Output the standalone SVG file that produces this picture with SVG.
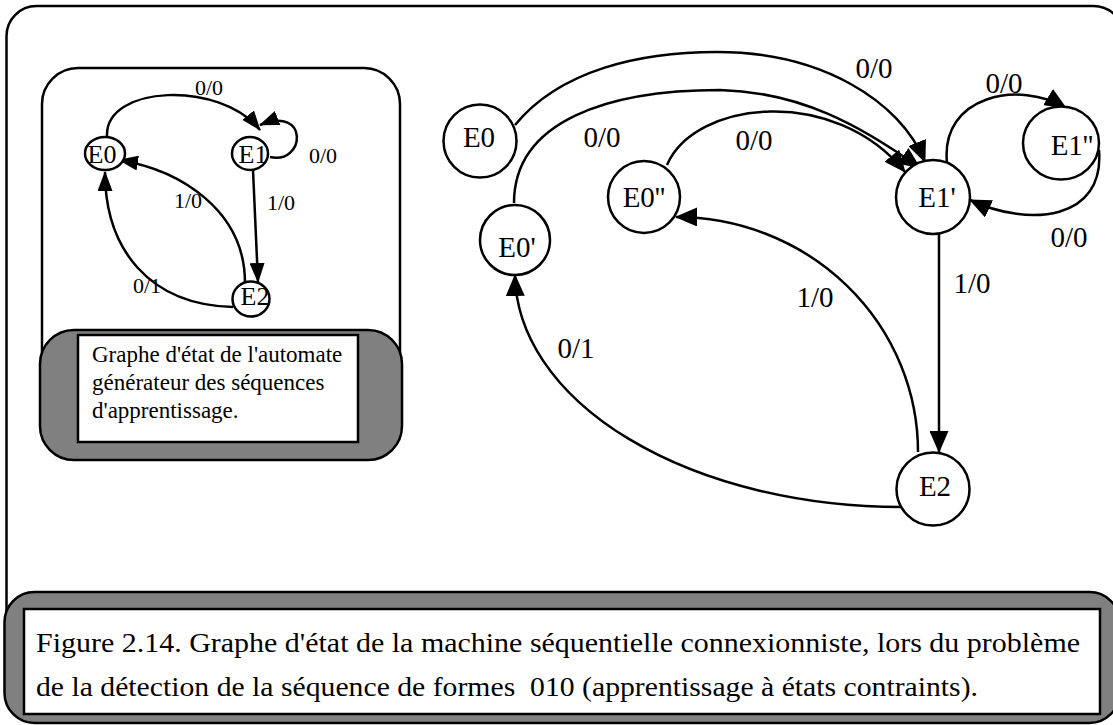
<svg xmlns="http://www.w3.org/2000/svg" width="1113" height="725" viewBox="0 0 1113 725">
<style>
.frame{fill:#fff;stroke:#000;stroke-width:2.5}
.gray{fill:#808080;stroke:#000;stroke-width:2.5}
.node{fill:#fff;stroke:#000;stroke-width:2.5}
.edge{fill:none;stroke:#000;stroke-width:2.5}
.t{font-family:"Liberation Serif","Times New Roman",serif;fill:#000}
.lm{font-size:29px;text-anchor:middle}
.ln{font-size:26px;text-anchor:middle}
.le{font-size:22px;text-anchor:middle}
</style>
<defs>
<marker id="ah" viewBox="0 0 22 19" refX="21" refY="9.5" markerWidth="22" markerHeight="19" orient="auto" markerUnits="userSpaceOnUse"><path d="M0,0 L22,9.5 L0,19 z" fill="#000"/></marker>
<marker id="ahs" viewBox="0 0 20 15" refX="19" refY="7.5" markerWidth="20" markerHeight="15" orient="auto" markerUnits="userSpaceOnUse"><path d="M0,0 L20,7.5 L0,15 z" fill="#000"/></marker>
</defs>
<rect width="1113" height="725" fill="#fff"/>
<g id="outer-frame"><rect class="frame" x="6.5" y="6" width="1117" height="690" rx="30"/></g>
<g id="inset">
<rect class="frame" x="42" y="68" width="358" height="320" rx="36"/>
<g id="inset-connectors">
<path class="edge" d="M107,136 C105,85 220,80 260,130" marker-end="url(#ahs)"/>
<path class="edge" d="M270,157 C305,165 310,105 260,125" marker-end="url(#ahs)"/>
<path class="edge" d="M253,170 L258,282" marker-end="url(#ahs)"/>
<path class="edge" d="M245,283 C245,210 180,170 119,160" marker-end="url(#ahs)"/>
<path class="edge" d="M233,307 C150,305 105,250 105,172" marker-end="url(#ahs)"/>
</g>
<g id="inset-E0"><ellipse class="node" cx="105" cy="153.5" rx="20" ry="16.5"/><text class="t ln" x="102" y="163">E0</text></g>
<g id="inset-E1"><ellipse class="node" cx="250" cy="153.5" rx="18" ry="16.5"/><text class="t ln" x="253" y="163">E1</text></g>
<g id="inset-E2"><ellipse class="node" cx="251" cy="299" rx="18.5" ry="17.5"/><text class="t ln" x="255" y="305">E2</text></g>
<g id="inset-labels">
<text class="t le" x="209" y="95">0/0</text>
<text class="t le" x="323" y="163">0/0</text>
<text class="t le" x="188" y="208">1/0</text>
<text class="t le" x="281" y="210">1/0</text>
<text class="t le" x="147" y="293">0/1</text>
</g>
<g id="inset-caption">
<rect class="gray" x="40" y="330" width="362" height="130" rx="34"/>
<rect class="frame" x="78" y="335" width="280" height="107"/>
<text class="t" font-size="23" x="92" y="362">Graphe d'état de l'automate</text>
<text class="t" font-size="23" x="92" y="390">générateur des séquences</text>
<text class="t" font-size="23" x="92" y="418">d'apprentissage.</text>
</g>
</g>
<g id="connectors">
<path class="edge" d="M515,125 C560,70 640,52 717,52 C820,52 900,100 925,162" marker-end="url(#ah)"/>
<path class="edge" d="M514,203 C514,120 610,90 720,90 C800,92 860,125 920,168" marker-end="url(#ah)"/>
<path class="edge" d="M667,165 C695,100 835,85 905,172" marker-end="url(#ah)"/>
<path class="edge" d="M947,163 C940,95 1020,80 1066,108" marker-end="url(#ah)"/>
<path class="edge" d="M1099,150 C1105,220 1030,228 970,200" marker-end="url(#ah)"/>
<path class="edge" d="M939,233 L939,452" marker-end="url(#ah)"/>
<path class="edge" d="M918,452 A242,235 0 0 0 676,217" marker-end="url(#ah)"/>
<path class="edge" d="M901,507 A386,234 0 0 1 515,275" marker-end="url(#ah)"/>
</g>
<g id="node-E0"><circle class="node" cx="480" cy="141" r="36.5"/><text class="t lm" x="479" y="147">E0</text></g>
<g id="node-E0pp"><circle class="node" cx="644" cy="197" r="36"/><text class="t lm" x="644" y="207">E0''</text></g>
<g id="node-E0p"><circle class="node" cx="515" cy="240" r="35"/><text class="t lm" x="517" y="257">E0'</text></g>
<g id="node-E1p"><circle class="node" cx="933" cy="197" r="37"/><text class="t lm" x="937" y="207">E1'</text></g>
<g id="node-E1pp"><ellipse class="node" cx="1061" cy="143" rx="38" ry="36.5"/><text class="t lm" x="1072" y="155">E1''</text></g>
<g id="node-E2"><circle class="node" cx="933" cy="489" r="36.5"/><text class="t lm" x="935" y="496">E2</text></g>
<g id="edge-labels">
<text class="t lm" x="874" y="78">0/0</text>
<text class="t lm" x="1004" y="93">0/0</text>
<text class="t lm" x="602" y="147">0/0</text>
<text class="t lm" x="754" y="150">0/0</text>
<text class="t lm" x="1069" y="247">0/0</text>
<text class="t lm" x="972" y="293">1/0</text>
<text class="t lm" x="815" y="307">1/0</text>
<text class="t lm" x="576" y="358">0/1</text>
</g>
<g id="caption">
<rect class="gray" x="4.5" y="592" width="1115" height="131" rx="30"/>
<rect class="frame" x="24" y="609" width="1076" height="105"/>
<text class="t" font-size="28" x="36" y="652" textLength="1044" lengthAdjust="spacingAndGlyphs">Figure 2.14. Graphe d'état de la machine séquentielle connexionniste, lors du problème</text>
<text class="t" font-size="28" x="36" y="696" textLength="942" lengthAdjust="spacingAndGlyphs" xml:space="preserve">de la détection de la séquence de formes  010 (apprentissage à états contraints).</text>
</g>
</svg>
